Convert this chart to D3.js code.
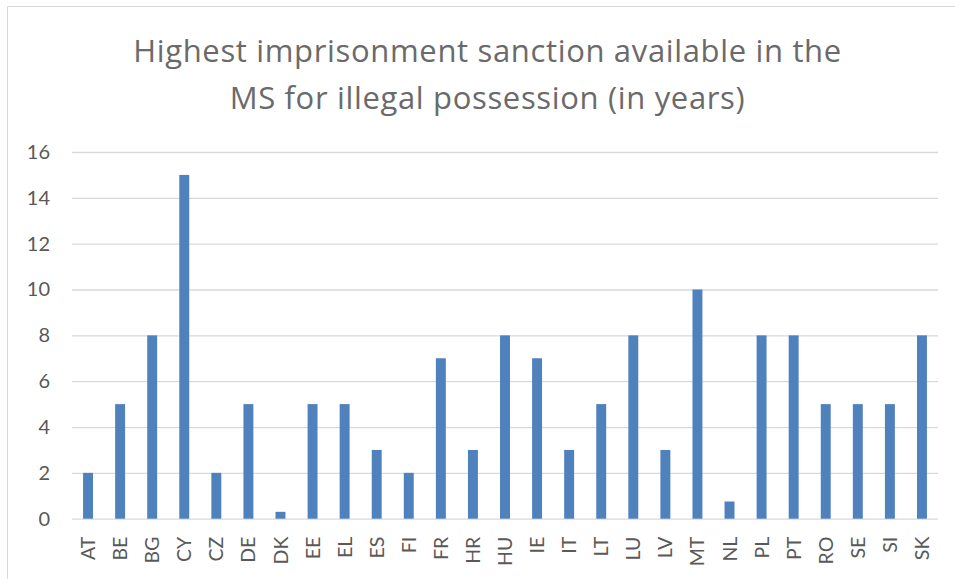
<!DOCTYPE html>
<html>
<head>
<meta charset="utf-8">
<script src="https://cdn.jsdelivr.net/npm/d3@7"></script>
<style>
  html, body { margin: 0; padding: 0; background: #fff; }
  svg { display: block; }
</style>
</head>
<body>
<svg id="chart" width="955" height="579"></svg>
<script>
const categories = ["AT","BE","BG","CY","CZ","DE","DK","EE","EL","ES","FI","FR","HR","HU","IE","IT","LT","LU","LV","MT","NL","PL","PT","RO","SE","SI","SK"];
const values = [2,5,8,15,2,5,0.3,5,5,3,2,7,3,8,7,3,5,8,3,10,0.75,8,8,5,5,5,8];
const yTicks = [0,2,4,6,8,10,12,14,16];
const titleLines = ["Highest imprisonment sanction available in the", "MS for illegal possession (in years)"];

const FONT = "Lato, 'Open Sans', 'Liberation Sans', sans-serif";
const TITLE_FONT = "'Open Sans', Lato, sans-serif";
const svg = d3.select("#chart");
const plot = { left: 72, right: 938, top: 152, bottom: 518.7 };

// chart border (cropped at right/bottom)
svg.append("rect")
  .attr("x", 7.5).attr("y", 6.5)
  .attr("width", 1000).attr("height", 1000)
  .attr("fill", "none").attr("stroke", "#d9d9d9").attr("stroke-width", 1);

const x = d3.scaleBand().domain(categories).range([plot.left, plot.right]).paddingInner(0.69).paddingOuter(0.345);
const y = d3.scaleLinear().domain([0, 16]).range([plot.bottom, plot.top]);

// gridlines + y labels
const yAxis = d3.axisLeft(y).tickValues(yTicks).tickSize(-(plot.right - plot.left)).tickPadding(22);
const gy = svg.append("g").attr("transform", `translate(${plot.left},0)`).call(yAxis)
  .attr("font-family", FONT).attr("font-size", 20);
gy.select(".domain").remove();
gy.selectAll(".tick line").attr("stroke", "#d9d9d9").attr("stroke-width", 1.3);
gy.selectAll(".tick text").attr("fill", "#595959");

// bars
svg.append("g").selectAll("rect").data(categories).join("rect")
  .attr("x", d => x(d))
  .attr("width", x.bandwidth())
  .attr("y", (d, i) => y(values[i]))
  .attr("height", (d, i) => y(0) - y(values[i]))
  .attr("fill", "#4f81bd");

// x axis labels
const xAxis = d3.axisBottom(x).tickSize(0).tickPadding(0);
const gx = svg.append("g").attr("transform", `translate(0,${plot.bottom})`).call(xAxis)
  .attr("font-family", FONT).attr("font-size", 19.5);
gx.select(".domain").remove();
gx.selectAll(".tick text")
  .attr("fill", "#595959")
  .attr("text-anchor", "end")
  .attr("transform", "rotate(-90)")
  .attr("x", -18).attr("y", 0).attr("dy", "0.36em");

// title
const title = svg.append("g").attr("font-family", TITLE_FONT);
const titleTexts = titleLines.map((t, i) => title.append("text")
    .attr("x", 487.5).attr("y", 62 + i * 46.5)
    .attr("text-anchor", "middle")
    .attr("fill", "#6a6a6a")
    .style("font-size", "31px")
    .style("font-weight", "400")
    .text(t));
const w0 = titleTexts[0].node().getComputedTextLength();
const ls = Math.max(-1, Math.min(2.5, (708 - w0) / (titleLines[0].length - 1)));
titleTexts.forEach(t => t.style("letter-spacing", ls + "px"));
</script>
</body>
</html>
